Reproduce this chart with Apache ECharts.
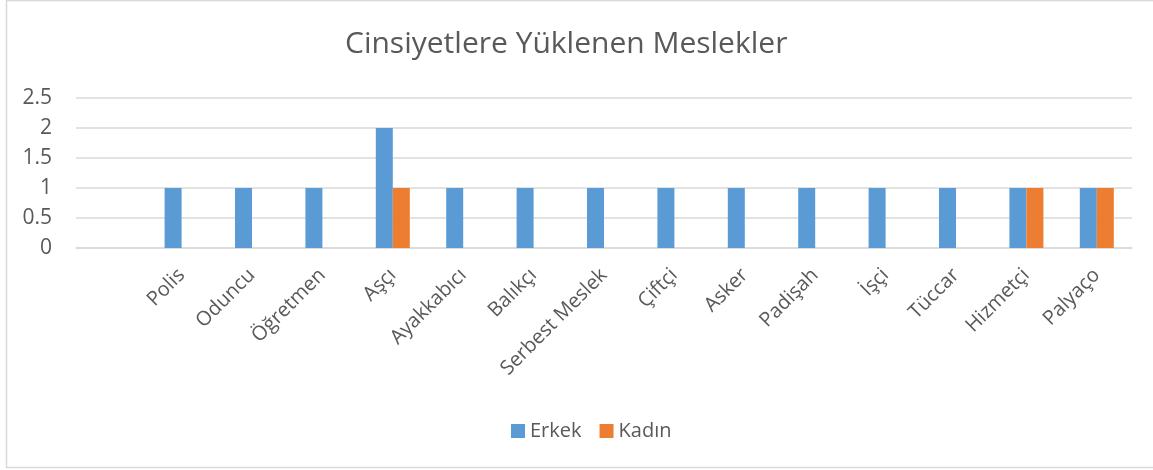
<!DOCTYPE html>
<html>
<head>
<meta charset="utf-8">
<script src="https://cdn.jsdelivr.net/npm/echarts@6/dist/echarts.min.js"></script>
<style>
  html, body { margin: 0; padding: 0; background: #fff; }
  #chart { width: 1153px; height: 470px; }
</style>
</head>
<body>
<div id="chart"></div>
<script>
// first category is blank in the original sheet
const categories = ['', 'Polis', 'Oduncu', 'Öğretmen', 'Aşçı', 'Ayakkabıcı', 'Balıkçı', 'Serbest Meslek',
  'Çiftçi', 'Asker', 'Padişah', 'İşçi', 'Tüccar', 'Hizmetçi', 'Palyaço'];
const erkek = [null, 1, 1, 1, 2, 1, 1, 1, 1, 1, 1, 1, 1, 1, 1];
const kadin = [null, null, null, null, 1, null, null, null, null, null, null, null, null, 1, 1];
const seriesNames = ['Erkek', 'Kadın'];

const font = '"Open Sans", sans-serif';
const chart = echarts.init(document.getElementById('chart'));

chart.setOption({
  animation: false,
  textStyle: { fontFamily: font },
  title: {
    text: 'Cinsiyetlere Yüklenen Meslekler',
    left: 340,
    top: 24,
    textStyle: { fontFamily: font, fontSize: 30, fontWeight: 'normal', color: '#595959' }
  },
  graphic: [{
    type: 'rect',
    shape: { x: 6.5, y: 0.5, width: 1160, height: 467 },
    style: { fill: 'none', stroke: '#d9d9d9', lineWidth: 1.5 },
    silent: true
  }],
  legend: {
    data: seriesNames,
    bottom: 24,
    left: 506,
    itemWidth: 14,
    itemHeight: 14,
    itemGap: 18,
    icon: 'rect',
    textStyle: { fontFamily: font, fontSize: 20, color: '#595959' }
  },
  grid: { left: 76, right: 21, top: 98, bottom: 222, containLabel: false },
  xAxis: {
    type: 'category',
    data: categories,
    axisLine: { show: true, lineStyle: { color: '#d9d9d9', width: 1.5 } },
    axisTick: { show: false },
    axisLabel: {
      rotate: 45,
      interval: 0,
      margin: 24,
      fontFamily: font,
      fontSize: 20,
      color: '#595959'
    }
  },
  yAxis: {
    type: 'value',
    min: 0,
    max: 2.5,
    interval: 0.5,
    axisLine: { show: false },
    axisTick: { show: false },
    splitLine: { lineStyle: { color: '#d9d9d9', width: 1.5 } },
    axisLabel: { fontFamily: font, fontSize: 21, color: '#595959', margin: 24 }
  },
  series: [
    {
      name: seriesNames[0],
      type: 'bar',
      data: erkek,
      barWidth: 17,
      barGap: '0%',
      itemStyle: { color: '#5b9bd5' }
    },
    {
      name: seriesNames[1],
      type: 'bar',
      data: kadin,
      barWidth: 17,
      itemStyle: { color: '#ed7d31' }
    }
  ]
});
</script>
</body>
</html>
